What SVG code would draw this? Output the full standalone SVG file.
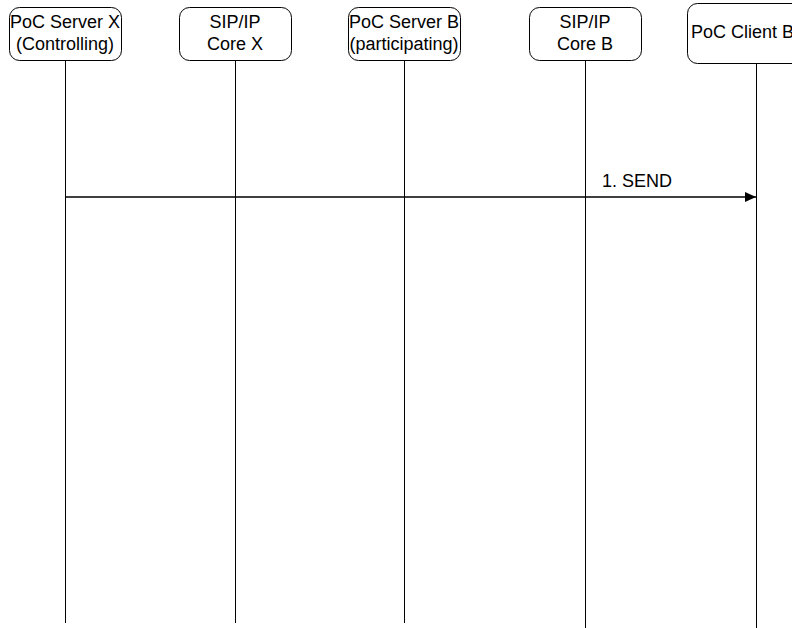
<svg xmlns="http://www.w3.org/2000/svg" width="792" height="628" viewBox="0 0 792 628">
<style>
.box{fill:#fff;stroke:#000;stroke-width:1}
.t{font-family:"Liberation Sans",Arial,sans-serif;font-size:18px;fill:#000}
.c{text-anchor:middle}
.life{stroke:#000;stroke-width:1}
.msg{stroke:#000;stroke-width:1.5}
</style>
<defs>
<marker id="ah" markerWidth="12" markerHeight="10" refX="11" refY="5" orient="auto" markerUnits="userSpaceOnUse">
<path d="M0,0 L11,5 L0,10 Z" fill="#000"/>
</marker>
</defs>
<rect width="792" height="628" fill="#fff"/>
<g id="connectors">
<line class="life" x1="65.5" y1="60" x2="65.5" y2="623"/>
<line class="life" x1="235.5" y1="60" x2="235.5" y2="623"/>
<line class="life" x1="404.5" y1="60" x2="404.5" y2="623"/>
<line class="life" x1="585.5" y1="60" x2="585.5" y2="628"/>
<line class="life" x1="756.5" y1="63" x2="756.5" y2="628"/>
<line class="msg" x1="65.5" y1="197" x2="756" y2="197" marker-end="url(#ah)"/>
<text class="t" x="602" y="187">1. SEND</text>
</g>
<g id="n1">
<rect class="box" x="9.5" y="7.5" width="112" height="53" rx="10"/>
<text class="t c" x="65" y="28">PoC Server X</text>
<text class="t c" x="65" y="50">(Controlling)</text>
</g>
<g id="n2">
<rect class="box" x="179.5" y="7.5" width="112" height="53" rx="10"/>
<text class="t c" x="235" y="28">SIP/IP</text>
<text class="t c" x="235" y="50">Core X</text>
</g>
<g id="n3">
<rect class="box" x="348.5" y="7.5" width="112" height="53" rx="10"/>
<text class="t c" x="404" y="28">PoC Server B</text>
<text class="t c" x="404" y="50">(participating)</text>
</g>
<g id="n4">
<rect class="box" x="529.5" y="7.5" width="112" height="53" rx="10"/>
<text class="t c" x="585" y="28">SIP/IP</text>
<text class="t c" x="585" y="50">Core B</text>
</g>
<g id="n5">
<rect class="box" x="687.5" y="3.5" width="140" height="60" rx="10"/>
<text class="t" x="691" y="38">PoC Client B</text>
</g>
</svg>
